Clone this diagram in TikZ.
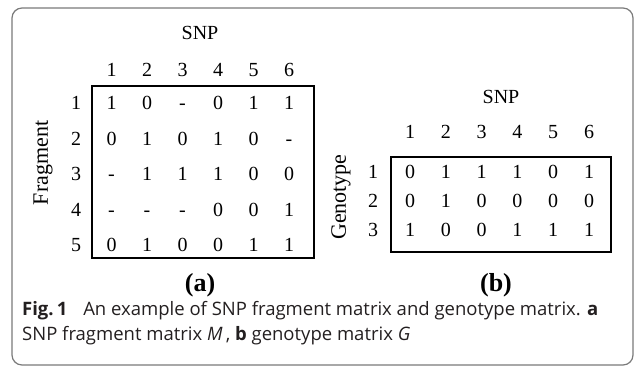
\documentclass[tikz,border=0pt]{standalone}
\usepackage{fontspec}
\setmainfont{Liberation Serif}
\newfontfamily\capfont{Open Sans}
\definecolor{framec}{HTML}{7A7A7A}
\definecolor{captext}{HTML}{231F20}
\tikzset{
  cell/.style={font=\fontsize{20}{20}\selectfont, text height=13.5pt, text depth=0pt, inner sep=0pt},
  axislab/.style={font=\fontsize{20}{20}\selectfont, inner sep=0pt},
  sidelab/.style={font=\fontsize{22}{22}\selectfont, inner sep=0pt, rotate=90},
  sublab/.style={font=\fontsize{26}{26}\selectfont\bfseries, inner sep=0pt},
  mbox/.style={draw=black, line width=1.6pt},
  capline/.style={font=\capfont\fontsize{18.5}{18.5}\selectfont, text=captext, inner sep=0pt, anchor=base west}
}
\begin{document}
\begin{tikzpicture}[x=1pt,y=-1pt]
\useasboundingbox (0,0) rectangle (636,372);
\draw[framec, line width=1.2pt, rounded corners=10pt] (12,8) rectangle (633,365);
% ---------- left matrix (a)
\node[axislab] (snpa) at (200,33) {SNP};
\node[sidelab] (frag) at (43,163) {Fragment};
\foreach \c [count=\i] in {1,...,6} {
  \node[cell] (ah\i) at ({111.5+35.5*(\i-1)},70) {\c};
}
\foreach \r [count=\j] in {1,...,5} {
  \node[cell] (ar\j) at (76,{103+35.5*(\j-1)}) {\r};
}
\foreach \row [count=\j] in {{1,0,-,0,1,1},{0,1,0,1,0,-},{-,1,1,1,0,0},{-,-,-,0,0,1},{0,1,0,0,1,1}} {
  \foreach \v [count=\i] in \row {
    \node[cell] (a-\j-\i) at ({111.5+35.5*(\i-1)},{103+35.5*(\j-1)}) {\v};
  }
}
\draw[mbox] (92,86) rectangle (314,258);
\node[sublab] (laba) at (200,285) {(a)};
% ---------- right matrix (b)
\node[axislab] (snpb) at (501,97) {SNP};
\node[sidelab] (geno) at (341,197) {Genotype};
\foreach \c [count=\i] in {1,...,6} {
  \node[cell] (bh\i) at ({410+35.8*(\i-1)},132) {\c};
}
\foreach \r [count=\j] in {1,...,3} {
  \node[cell] (br\j) at (373,{172+29*(\j-1)}) {\r};
}
\foreach \row [count=\j] in {{0,1,1,1,0,1},{0,1,0,0,0,0},{1,0,0,1,1,1}} {
  \foreach \v [count=\i] in \row {
    \node[cell] (b-\j-\i) at ({410+35.8*(\i-1)},{172+29*(\j-1)}) {\v};
  }
}
\draw[mbox] (391,157) rectangle (611,252);
\node[sublab] (labb) at (496,285) {(b)};
% ---------- caption
\node[capline] (cap1) at (22,315) {\textbf{Fig.\,1}\hspace{0.6em} An example of SNP fragment matrix and genotype matrix. \textbf{a}};
\node[capline] (cap2) at (22,340) {SNP fragment matrix \textit{M}\,, \textbf{b} genotype matrix \textit{G}};
\end{tikzpicture}
\end{document}
